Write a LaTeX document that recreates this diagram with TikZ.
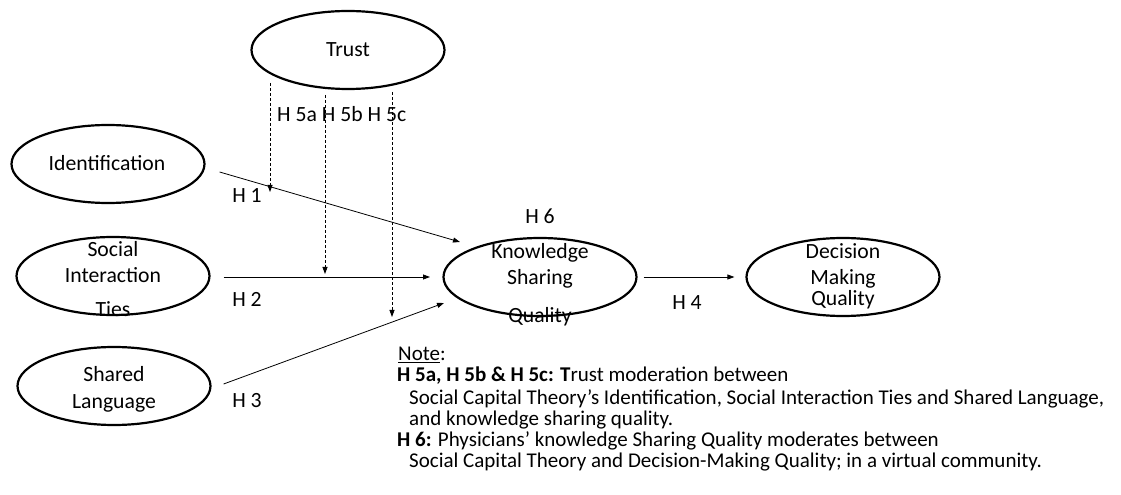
\documentclass[tikz,border=0pt]{standalone}
\usepackage{fontspec}
\setmainfont{Carlito}
\usetikzlibrary{shapes.geometric,arrows.meta,calc}
\begin{document}
\begin{tikzpicture}[x=1bp,y=-1bp,
  oval/.style={ellipse,draw,line width=2.2bp,minimum width=193bp,minimum height=78bp,inner sep=0pt},
  lbl/.style={anchor=base,inner sep=0pt,font=\fontsize{21.7bp}{26bp}\selectfont},
  note/.style={anchor=base west,inner sep=0pt,font=\fontsize{21bp}{25bp}\selectfont},
  arr/.style={line width=0.8bp,-{Triangle[length=7bp,width=5bp]}},
  darr/.style={arr,dash pattern=on 3bp off 2bp}]
\useasboundingbox (0,0) rectangle (1121,495);
% ellipses
\node[oval] (trust) at (348,50) {};
\node[oval] (ident) at (108,164) {};
\node[oval] (sit) at (113,276) {};
\node[oval] (sl) at (114,386) {};
\node[oval] (ksq) at (540,277) {};
\node[oval] (dmq) at (843,277) {};
% texts
\node[lbl] (ttrust) at (348,57) {Trust};
\node[lbl] (tident) at (107,171) {Identification};
\node[lbl] (tsit1) at (113,257) {Social};
\node[lbl] (tsit2) at (113,283) {Interaction};
\node[lbl] (tsit3) at (113,317) {Ties};
\node[lbl] (tsl1) at (114,382) {Shared};
\node[lbl] (tsl2) at (114,408) {Language};
\node[lbl] (tksq1) at (540,259) {Knowledge};
\node[lbl] (tksq2) at (540,285) {Sharing};
\node[lbl] (tksq3) at (540,323) {Quality};
\node[lbl] (tdmq1) at (843,259) {Decision};
\node[lbl] (tdmq2) at (843,285) {Making};
\node[lbl] (tdmq3) at (843,306) {Quality};
% connector end points
\coordinate (idout) at ($(ident.east)+(14,8)$);
\coordinate (idin) at ($(ksq.center)+(-80,-35)$);
\coordinate (sitout) at ($(sit.east)+(13,1)$);
\coordinate (sitin) at ($(ksq.center)+(-110,0)$);
\coordinate (slout) at ($(sl.east)+(12,-2)$);
\coordinate (slin) at ($(ksq.center)+(-96,26)$);
\coordinate (ksqout) at ($(ksq.east)+(6,0)$);
\coordinate (dmqin) at ($(dmq.west)+(-11,0)$);
\coordinate (t1) at (270,83);
\coordinate (m1) at (270,192);
\coordinate (t2) at (325,95);
\coordinate (m2) at (325,274);
\coordinate (t3) at (392,92);
\coordinate (m3) at (392,317);
% connectors
\draw[arr] (idout) -- (idin);
\draw[arr] (sitout) -- (sitin);
\draw[arr] (slout) -- (slin);
\draw[arr] (ksqout) -- (dmqin);
\draw[darr] (t1) -- (m1);
\draw[darr] (t2) -- (m2);
\draw[darr] (t3) -- (m3);
% hypothesis labels
\node[lbl,anchor=base west] (h5) at (277,122) {H 5a H 5b H 5c};
\node[lbl] (h1) at (247,203) {H 1};
\node[lbl] (h2) at (247,307) {H 2};
\node[lbl] (h3) at (247,407) {H 3};
\node[lbl] (h6) at (540,224) {H 6};
\node[lbl] (h4) at (687,310) {H 4};
% note
\node[note] (n0) at (398,361) {\underline{Note}:};
\node[note] (n1) at (397,382) {\textbf{H 5a, H 5b \& H 5c: T}rust moderation between};
\node[note] (n2) at (409,404) {Social Capital Theory’s Identification, Social Interaction Ties and Shared Language,};
\node[note] (n3) at (409,425) {and knowledge sharing quality.};
\node[note] (n4) at (397,446) {\textbf{H 6:} Physicians’ knowledge Sharing Quality moderates between};
\node[note] (n5) at (409,467) {Social Capital Theory and Decision-Making Quality; in a virtual community.};
\end{tikzpicture}
\end{document}
